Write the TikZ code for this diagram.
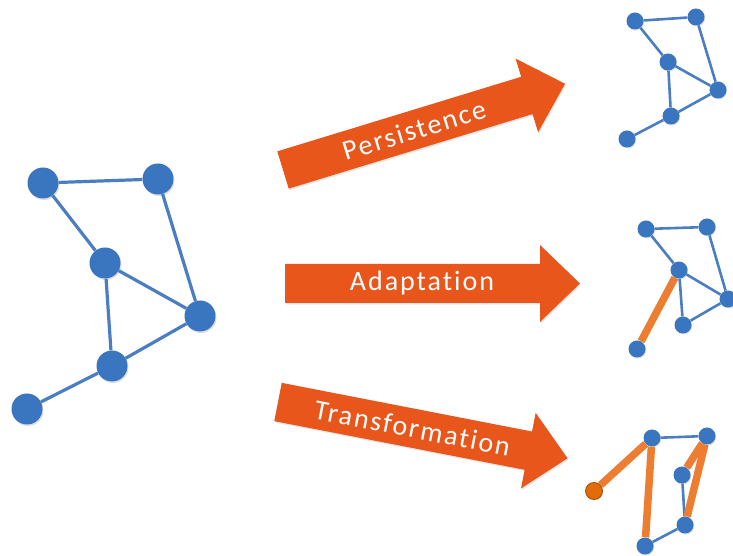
\documentclass[tikz,border=0pt]{standalone}
\usepackage{fontspec}
\newfontfamily\labelfont[LetterSpace=7,Ligatures=NoCommon]{Carlito}
\usetikzlibrary{shadows}
\definecolor{netblue}{HTML}{3A76C0}
\definecolor{edgeblue}{HTML}{4A7EC1}
\definecolor{arroworange}{HTML}{E9561C}
\definecolor{edgeorange}{HTML}{ED7D31}
\definecolor{nodeorange}{HTML}{E36C0A}
\tikzset{
  bignode/.style={circle,fill=netblue,inner sep=0pt,minimum size=31pt,
    drop shadow={opacity=0.25,shadow xshift=1pt,shadow yshift=-1.5pt}},
  smallnode/.style={circle,fill=netblue,inner sep=0pt,minimum size=17pt,
    drop shadow={opacity=0.25,shadow xshift=0.7pt,shadow yshift=-1pt}},
  oddnode/.style={smallnode,fill=nodeorange,draw=nodeorange!70!black,line width=0.8pt},
  bigedge/.style={draw=edgeblue,line width=3.2pt},
  smalledge/.style={draw=edgeblue,line width=2.6pt},
  newedge/.style={draw=edgeorange,line width=7.5pt},
  arrowbody/.style={fill=arroworange,
    drop shadow={opacity=0.2,shadow xshift=1pt,shadow yshift=-1.5pt}},
  arrowtext/.style={text=white,font=\labelfont\fontsize{28}{30}\selectfont,transform shape}
}
\begin{document}
\begin{tikzpicture}[x=1pt,y=1pt]
\useasboundingbox (0,0) rectangle (733,556);
% the three arrows
\foreach \tx/\ty/\ang/\lbl in {283/386/17/Persistence,285/272.5/0/Adaptation,278/154/-11/Transformation}
{
  \begin{scope}[shift={(\tx,\ty)},rotate=\ang]
    \path[arrowbody] (0,-19.5) -- (255,-19.5) -- (255,-38.5) -- (295,0)
      -- (255,38.5) -- (255,19.5) -- (0,19.5) -- cycle;
    \node[arrowtext] (lbl-\lbl) at (137,0) {\lbl};
  \end{scope}
}
% the network before
\node[bignode] (a1) at (43,373) {};
\node[bignode] (a2) at (158,377) {};
\node[bignode] (a3) at (105,293) {};
\node[bignode] (a4) at (200,240) {};
\node[bignode] (a5) at (112,190) {};
\node[bignode] (a6) at (27,147) {};
\foreach \u/\v in {a1/a2,a1/a3,a2/a4,a3/a4,a3/a5,a4/a5,a5/a6}
  \draw[bigedge] (\u) -- (\v);
% persistence
\node[smallnode] (p1) at (635,535) {};
\node[smallnode] (p2) at (696,539) {};
\node[smallnode] (p3) at (668,494) {};
\node[smallnode] (p4) at (718,466) {};
\node[smallnode] (p5) at (671,440) {};
\node[smallnode] (p6) at (627,417) {};
\foreach \u/\v in {p1/p2,p1/p3,p2/p4,p3/p4,p3/p5,p4/p5,p5/p6}
  \draw[smalledge] (\u) -- (\v);
% adaptation
\node[smallnode] (d1) at (646,327) {};
\node[smallnode] (d2) at (707,329) {};
\node[smallnode] (d3) at (679,286) {};
\node[smallnode] (d4) at (728,257) {};
\node[smallnode] (d5) at (683,231) {};
\node[smallnode] (d6) at (637,207) {};
\foreach \u/\v in {d1/d2,d1/d3,d2/d4,d3/d4,d3/d5,d4/d5}
  \draw[smalledge] (\u) -- (\v);
\draw[newedge] (d3) -- (d6);
% transformation
\node[smallnode] (t1) at (652,118) {};
\node[smallnode] (t2) at (707,120) {};
\node[smallnode] (t3) at (682,81) {};
\node[smallnode] (t4) at (685,31) {};
\node[smallnode] (t5) at (645,10) {};
\node[oddnode] (t6) at (594,65) {};
\foreach \u/\v in {t1/t2,t3/t4,t4/t5}
  \draw[smalledge] (\u) -- (\v);
\foreach \u/\v in {t1/t6,t1/t5,t2/t3,t2/t4}
  \draw[newedge] (\u) -- (\v);
\end{tikzpicture}
\end{document}
